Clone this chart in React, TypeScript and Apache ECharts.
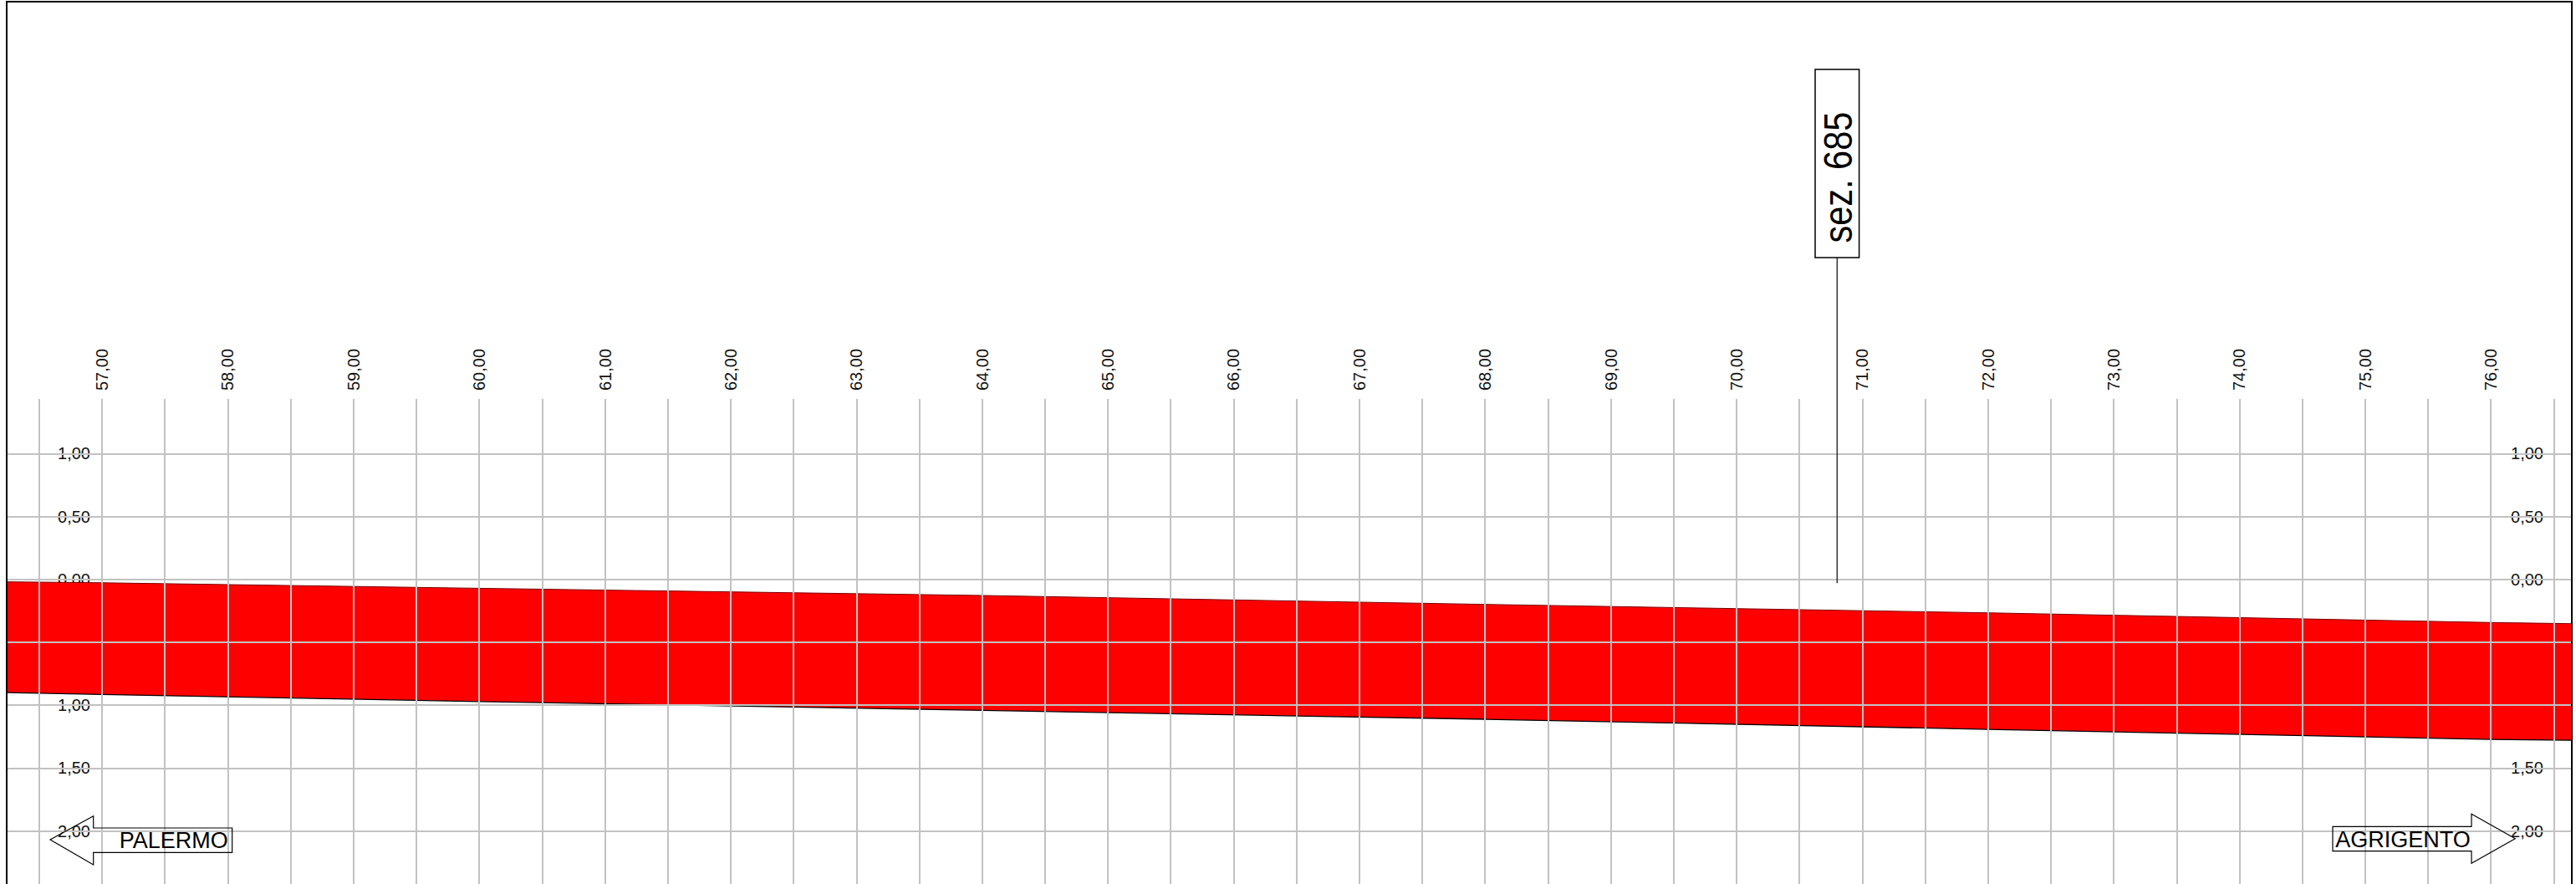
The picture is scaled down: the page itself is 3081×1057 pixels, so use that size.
import React, { useEffect, useRef } from "react";
import * as echarts from "echarts";

const W = 3081;
const H = 1057;
const FONT = "'Liberation Sans', Arial, Helvetica, sans-serif";

// progressive (km) tick values and labels
const xTicks = [57, 58, 59, 60, 61, 62, 63, 64, 65, 66, 67, 68, 69, 70, 71, 72, 73, 74, 75, 76];
const xTickLabels = [
  "57,00", "58,00", "59,00", "60,00", "61,00", "62,00", "63,00", "64,00", "65,00", "66,00",
  "67,00", "68,00", "69,00", "70,00", "71,00", "72,00", "73,00", "74,00", "75,00", "76,00",
];

// elevation ticks (labels shown as absolute values)
const yTicks = [1, 0.5, 0, -0.5, -1, -1.5, -2];
const yTickLabels = ["1,00", "0,50", "0,00", "0,50", "1,00", "1,50", "2,00"];

// red band: top and bottom edge along the progressive
const progressive = [56.2, 57, 60, 64, 68, 72, 76, 76.7];
const topEdge = [-0.019, -0.027, -0.071, -0.128, -0.199, -0.266, -0.343, -0.353];
const bottomEdge = [-0.899, -0.915, -0.971, -1.041, -1.112, -1.192, -1.272, -1.28];

// section marker
const sectionName = "sez. 685";
const sectionAt = 70.8;
const sectionLineBottom = -0.03;
const sectionLineTop = 2.557;

// direction labels
const leftDirection = "PALERMO";
const rightDirection = "AGRIGENTO";

const GRID_COLOR = "#c2c2c2";

export default function App() {
  const ref = useRef<HTMLDivElement>(null);

  useEffect(() => {
    const chart = echarts.init(ref.current as HTMLDivElement, null, {
      renderer: "svg",
      width: W,
      height: H,
    });

    const yFmt = (v: number) => {
      const i = yTicks.findIndex((t) => Math.abs(t - v) < 1e-6);
      return i >= 0 ? yTickLabels[i] : "";
    };
    const xFmt = (v: number) => {
      const i = xTicks.findIndex((t) => Math.abs(t - v) < 1e-6);
      return i >= 0 ? xTickLabels[i] : "";
    };

    const yBase = {
      type: "value",
      gridIndex: 0,
      min: -2,
      max: 1,
      interval: 0.5,
      axisLine: { show: false },
      axisTick: { show: false },
      splitLine: { show: false },
    };

    const option: any = {
      animation: false,
      backgroundColor: "#ffffff",
      textStyle: { fontFamily: FONT },
      grid: [
        { left: 8, top: 542.3, width: 3068, height: 451.3, show: false, outerBoundsMode: "none" },
        { left: 46.8, top: 477, width: 3007.6, height: 580, show: false, outerBoundsMode: "none" },
      ],
      xAxis: [
        {
          type: "value",
          gridIndex: 0,
          min: 56.242,
          max: 76.643,
          show: false,
        },
        {
          type: "value",
          gridIndex: 1,
          position: "top",
          min: 56.5,
          max: 76.5,
          interval: 0.5,
          z: 5,
          axisLine: { show: false },
          axisTick: { show: false },
          axisLabel: {
            rotate: 90,
            margin: 10,
            fontSize: 20,
            color: "#111",
            fontFamily: FONT,
            formatter: xFmt,
          },
          splitLine: {
            show: true,
            lineStyle: { color: GRID_COLOR, width: 2 },
          },
        },
      ],
      yAxis: [
        {
          ...yBase,
          position: "left",
          z: 0,
          axisLabel: {
            inside: true,
            margin: 100,
            align: "right",
            fontSize: 20,
            color: "#111",
            fontFamily: FONT,
            formatter: yFmt,
          },
        },
        {
          ...yBase,
          position: "right",
          z: 0,
          axisLabel: {
            inside: true,
            margin: 34,
            align: "right",
            fontSize: 20,
            color: "#111",
            fontFamily: FONT,
            formatter: yFmt,
          },
        },
        {
          ...yBase,
          position: "left",
          z: 5,
          axisLabel: { show: false },
          splitLine: {
            show: true,
            lineStyle: { color: GRID_COLOR, width: 2 },
          },
        },
        { type: "value", gridIndex: 1, show: false, min: 0, max: 1 },
      ],
      series: [
        {
          type: "custom",
          xAxisIndex: 0,
          yAxisIndex: 0,
          z: 2,
          clip: true,
          silent: true,
          encode: { x: 0, y: [1, 2] },
          data: progressive.map((x, i) => [x, topEdge[i], bottomEdge[i]]),
          renderItem: (params: any, api: any) => {
            if (params.dataIndex !== 0) return null;
            const top = progressive.map((x, i) => api.coord([x, topEdge[i]]));
            const bot = progressive.map((x, i) => api.coord([x, bottomEdge[i]]));
            return {
              type: "group",
              children: [
                {
                  type: "polygon",
                  shape: { points: top.concat(bot.slice().reverse()) },
                  style: { fill: "#ff0000", stroke: null },
                },
                {
                  type: "polyline",
                  shape: { points: top },
                  style: { fill: null, stroke: "#7a0000", lineWidth: 1 },
                },
                {
                  type: "polyline",
                  shape: { points: bot },
                  style: { fill: null, stroke: "#000000", lineWidth: 1.3 },
                },
              ],
            };
          },
        },
      ],
    };

    chart.setOption(option);

    const pBottom = chart.convertToPixel({ gridIndex: 0 } as any, [sectionAt, sectionLineBottom]) as number[];
    const pTop = chart.convertToPixel({ gridIndex: 0 } as any, [sectionAt, sectionLineTop]) as number[];
    const sx = pBottom[0];
    const boxH = 225;
    const boxW = 52.6;

    const arrowStyle = { fill: null, stroke: "#000000", lineWidth: 1.2 };

    chart.setOption({
      graphic: [
        // frame
        {
          type: "rect",
          z: 20,
          silent: true,
          shape: { x: 8, y: 2, width: 3068, height: 1200 },
          style: { fill: null, stroke: "#000000", lineWidth: 2 },
        },
        // section stem
        {
          type: "line",
          z: 20,
          silent: true,
          shape: { x1: sx, y1: pBottom[1], x2: sx, y2: pTop[1] },
          style: { stroke: "#333333", lineWidth: 1.5 },
        },
        // section box
        {
          type: "rect",
          z: 20,
          silent: true,
          shape: { x: sx - boxW / 2, y: pTop[1] - boxH, width: boxW, height: boxH },
          style: { fill: "#ffffff", stroke: "#000000", lineWidth: 1.5 },
        },
        {
          type: "text",
          z: 21,
          silent: true,
          x: sx + 1,
          y: pTop[1] - boxH / 2 + 16.5,
          rotation: Math.PI / 2,
          scaleX: 0.865,
          style: {
            text: sectionName,
            fontFamily: FONT,
            fontSize: 48,
            fill: "#000000",
            align: "center",
            verticalAlign: "middle",
          },
        },
        // PALERMO arrow
        {
          type: "polygon",
          z: 20,
          silent: true,
          shape: {
            points: [
              [60, 1004],
              [111.7, 975.7],
              [111.7, 990],
              [277.7, 990],
              [277.7, 1019.3],
              [111.7, 1019.3],
              [111.7, 1034],
            ],
          },
          style: arrowStyle,
        },
        {
          type: "text",
          z: 21,
          silent: true,
          x: 142.7,
          y: 1004.8,
          style: {
            text: leftDirection,
            fontFamily: FONT,
            fontSize: 27,
            fill: "#000000",
            align: "left",
            verticalAlign: "middle",
          },
        },
        // AGRIGENTO arrow
        {
          type: "polygon",
          z: 20,
          silent: true,
          shape: {
            points: [
              [2790, 988.3],
              [2956, 988.3],
              [2956, 973.3],
              [3008.3, 1002.7],
              [2956, 1032.3],
              [2956, 1017.7],
              [2790, 1017.7],
            ],
          },
          style: arrowStyle,
        },
        {
          type: "text",
          z: 21,
          silent: true,
          x: 2793.3,
          y: 1003.5,
          style: {
            text: rightDirection,
            fontFamily: FONT,
            fontSize: 27,
            fill: "#000000",
            align: "left",
            verticalAlign: "middle",
          },
        },
      ],
    });

    return () => {
      chart.dispose();
    };
  }, []);

  return (
    <div
      ref={ref}
      style={{ position: "fixed", left: 0, top: 0, width: W, height: H, background: "#ffffff" }}
    />
  );
}
